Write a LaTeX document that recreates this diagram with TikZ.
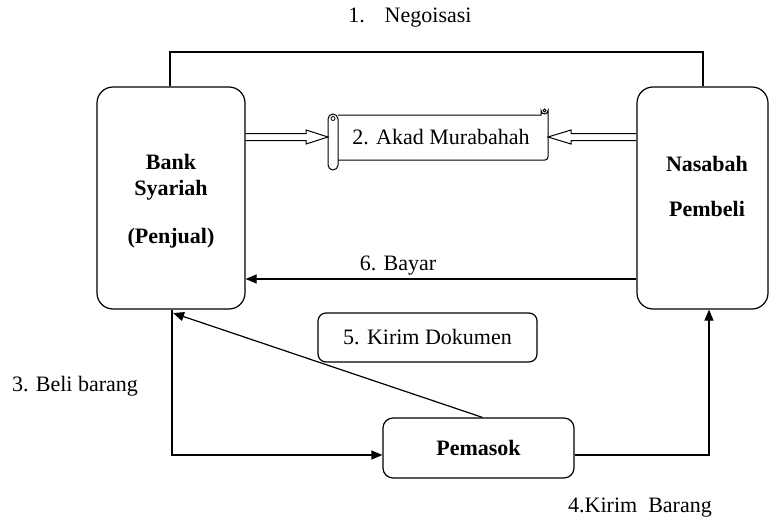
\documentclass[tikz,border=0pt]{standalone}
\usepackage{fontspec}
\setmainfont{Liberation Serif}
\usetikzlibrary{arrows.meta}
\begin{document}
\begin{tikzpicture}[x=1pt,y=-1pt,
  line width=1.2pt,
  box/.style={draw, rounded corners=16pt, inner sep=0pt},
  txt/.style={font=\fontsize{22}{26}\selectfont, inner sep=0pt},
  btxt/.style={font=\fontsize{22}{26}\selectfont\bfseries, inner sep=0pt, align=center},
  arr/.style={-{Triangle[length=11pt,width=9pt]}},
  hollow/.style={line width=1pt, line join=miter}
]
\useasboundingbox (0,0) rectangle (771,519);
% main boxes
\node[box, minimum width=148pt, minimum height=222pt] (bank) at (171,198) {};
\node[btxt] (banktxt) at (171,201) {Bank\\Syariah\\[22pt](Penjual)};
\node[box, minimum width=131pt, minimum height=222pt] (nasabah) at (702.5,198) {};
\node[btxt, font=\fontsize{22}{45}\selectfont\bfseries] (nastxt) at (707,186) {Nasabah\\Pembeli};
% scroll
\node[txt, minimum width=210pt, minimum height=45pt] (akad) at (441,137) {2. Akad Murabahah};
\draw[line width=1pt] (338,115) -- (541,115) -- (541,110.5) arc[start angle=180,end angle=0,radius=3.5] -- (548,157) arc[start angle=0,end angle=90,radius=3] -- (338,160);
\draw[line width=0.8pt] (544.5,110.5) circle[radius=1.5];
\draw[line width=1pt, rounded corners=5pt] (328,114) rectangle (338,170);
\draw[line width=0.8pt] (333,118.5) circle[radius=2];
% other boxes
\node[draw, rounded corners=8pt, minimum width=219pt, minimum height=49pt, txt] (dok) at (427.5,337.5) {5. Kirim Dokumen};
\node[draw, rounded corners=10pt, minimum width=191pt, minimum height=60pt, btxt] (pemasok) at (478.5,448) {Pemasok};
% 1. Negoisasi
\coordinate (n1) at (170,52);
\coordinate (n2) at (703,52);
\draw (bank.north -| n1) -- (n1) -- (n2) -- (nasabah.north -| n2);
\node[txt] (l1) at (410,18) {1.\hspace{0.9em}Negoisasi};
% 2. Akad hollow arrows
\coordinate (h1) at (328,137);
\coordinate (h2) at (548,137);
\draw[hollow] (bank.east |- 0,133.5) -- (306,133.5) -- (306,130) -- (h1) -- (306,144) -- (306,140.5) -- (bank.east |- 0,140.5);
\draw[hollow] (nasabah.west |- 0,133.5) -- (571,133.5) -- (571,130) -- (h2) -- (571,144) -- (571,140.5) -- (nasabah.west |- 0,140.5);
% 6. Bayar
\draw[arr] (nasabah.west |- 0,279) -- (bank.east |- 0,279);
\node[txt] (l6) at (398,266) {6. Bayar};
% 5. Kirim Dokumen arrow
\coordinate (b5) at (173,313);
\draw[arr] (pemasok.north) ++(4,0) -- (b5);
% 3. Beli barang
\coordinate (c3) at (172,455);
\draw[arr] (bank.south -| c3) -- (c3) -- (pemasok.west |- c3);
\node[txt] (l3) at (75,386) {3. Beli barang};
% 4. Kirim Barang
\coordinate (c4) at (709,455);
\draw[arr] (pemasok.east |- c4) -- (c4) -- (nasabah.south -| c4);
\node[txt] (l4) at (640,508) {4.Kirim\hspace{0.5em}Barang};
\end{tikzpicture}
\end{document}
